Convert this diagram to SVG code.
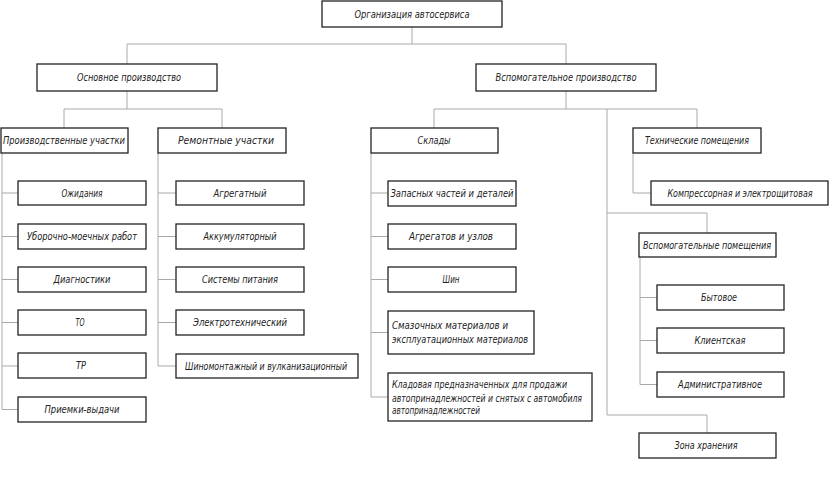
<svg xmlns="http://www.w3.org/2000/svg" width="833" height="481" viewBox="0 0 833 481">
<style>
.b{fill:#fff;stroke:#222;stroke-width:1.3}
.c{fill:none;stroke:#aaa;stroke-width:1}
text{font-family:"DejaVu Sans Condensed","DejaVu Sans",sans-serif;font-style:italic;font-size:10px;fill:#222;lengthAdjust:spacingAndGlyphs}
.m{text-anchor:middle}
</style>
<rect width="833" height="481" fill="#fff"/>
<g id="connectors" class="c">
<path d="M412,27V44M127,44H566M127,44V64M566,44V64"/>
<path d="M127,91V109M64,109H222M64,109V128M222,109V128"/>
<path d="M566,91V109M434,109H697M434,109V128M697,109V128M607,109V415H707V433M607,213H707V233"/>
<path d="M2,153V409.5M2,193H18M2,236.5H18M2,279.5H18M2,322.5H18M2,366H18M2,409.5H18"/>
<path d="M158,153V366M158,193H176M158,236.5H176M158,279.5H176M158,322.5H176M158,366H176"/>
<path d="M371,153V397M371,193H388M371,236.5H388M371,279.5H388M371,332.5H388M371,397H388"/>
<path d="M633,153V193H651"/>
<path d="M640,257V384.5M640,297.5H657M640,340.5H657M640,384.5H657"/>
</g>
<g id="n_root"><rect class="b" x="322" y="1" width="180" height="26"/><text class="m" x="412" y="17.5" textLength="115" lengthAdjust="spacingAndGlyphs">Организация автосервиса</text></g>
<g id="n_main"><rect class="b" x="37" y="64" width="180" height="27"/><text class="m" x="129" y="81" textLength="104" lengthAdjust="spacingAndGlyphs">Основное производство</text></g>
<g id="n_aux"><rect class="b" x="476" y="64" width="180" height="27"/><text class="m" x="566" y="81" textLength="141" lengthAdjust="spacingAndGlyphs">Вспомогательное производство</text></g>
<g id="n_prod"><rect class="b" x="1" y="128" width="127" height="25"/><text class="m" x="64" y="144" textLength="122" lengthAdjust="spacingAndGlyphs">Производственные участки</text></g>
<g id="n_rem"><rect class="b" x="158" y="128" width="128" height="25"/><text class="m" x="226" y="144" textLength="96" lengthAdjust="spacingAndGlyphs">Ремонтные участки</text></g>
<g id="n_skl"><rect class="b" x="371" y="128" width="127" height="25"/><text class="m" x="434" y="144" textLength="33" lengthAdjust="spacingAndGlyphs">Склады</text></g>
<g id="n_teh"><rect class="b" x="633" y="128" width="128" height="25"/><text class="m" x="697" y="144" textLength="104" lengthAdjust="spacingAndGlyphs">Технические помещения</text></g>
<g id="n_p1"><rect class="b" x="18" y="181" width="128" height="24"/><text class="m" x="82" y="196.5" textLength="41" lengthAdjust="spacingAndGlyphs">Ожидания</text></g>
<g id="n_p2"><rect class="b" x="18" y="224" width="128" height="25"/><text class="m" x="82" y="240" textLength="110" lengthAdjust="spacingAndGlyphs">Уборочно-моечных работ</text></g>
<g id="n_p3"><rect class="b" x="18" y="267" width="128" height="25"/><text class="m" x="82" y="283" textLength="57" lengthAdjust="spacingAndGlyphs">Диагностики</text></g>
<g id="n_p4"><rect class="b" x="18" y="310" width="128" height="25"/><text class="m" x="80" y="326" textLength="9" lengthAdjust="spacingAndGlyphs">ТО</text></g>
<g id="n_p5"><rect class="b" x="18" y="353" width="128" height="25"/><text class="m" x="81" y="369" textLength="10" lengthAdjust="spacingAndGlyphs">ТР</text></g>
<g id="n_p6"><rect class="b" x="18" y="397" width="128" height="25"/><text class="m" x="82" y="413" textLength="75" lengthAdjust="spacingAndGlyphs">Приемки-выдачи</text></g>
<g id="n_r1"><rect class="b" x="176" y="181" width="128" height="24"/><text class="m" x="240" y="196.5" textLength="53" lengthAdjust="spacingAndGlyphs">Агрегатный</text></g>
<g id="n_r2"><rect class="b" x="176" y="224" width="128" height="25"/><text class="m" x="240" y="240" textLength="73" lengthAdjust="spacingAndGlyphs">Аккумуляторный</text></g>
<g id="n_r3"><rect class="b" x="176" y="267" width="128" height="25"/><text class="m" x="240" y="283" textLength="76" lengthAdjust="spacingAndGlyphs">Системы питания</text></g>
<g id="n_r4"><rect class="b" x="176" y="310" width="128" height="25"/><text class="m" x="240" y="326" textLength="94" lengthAdjust="spacingAndGlyphs">Электротехнический</text></g>
<g id="n_r5"><rect class="b" x="176" y="354" width="182" height="24"/><text class="m" x="266" y="369.5" textLength="162" lengthAdjust="spacingAndGlyphs">Шиномонтажный и вулканизационный</text></g>
<g id="n_s1"><rect class="b" x="388" y="181" width="128" height="25"/><text class="m" x="452" y="197" textLength="123" lengthAdjust="spacingAndGlyphs">Запасных частей и деталей</text></g>
<g id="n_s2"><rect class="b" x="388" y="224" width="128" height="25"/><text class="m" x="451" y="240" textLength="84" lengthAdjust="spacingAndGlyphs">Агрегатов и узлов</text></g>
<g id="n_s3"><rect class="b" x="388" y="267" width="128" height="25"/><text class="m" x="451" y="283" textLength="17" lengthAdjust="spacingAndGlyphs">Шин</text></g>
<g id="n_s4"><rect class="b" x="388" y="311" width="146" height="43"/><text x="392" y="328.5" textLength="116" lengthAdjust="spacingAndGlyphs">Смазочных материалов и</text><text x="392" y="342.5" textLength="136" lengthAdjust="spacingAndGlyphs">эксплуатационных материалов</text></g>
<g id="n_s5"><rect class="b" x="388" y="373" width="204" height="48"/><text x="392" y="388" textLength="175" lengthAdjust="spacingAndGlyphs">Кладовая предназначенных для продажи</text><text x="392" y="401.5" textLength="190" lengthAdjust="spacingAndGlyphs">автопринадлежностей и снятых с автомобиля</text><text x="392" y="414" textLength="88" lengthAdjust="spacingAndGlyphs">автопринадлежностей</text></g>
<g id="n_t1"><rect class="b" x="651" y="181" width="177" height="24"/><text class="m" x="740" y="196.5" textLength="145" lengthAdjust="spacingAndGlyphs">Компрессорная и электрощитовая</text></g>
<g id="n_v"><rect class="b" x="639" y="233" width="137" height="24"/><text class="m" x="707" y="248.5" textLength="128" lengthAdjust="spacingAndGlyphs">Вспомогательные помещения</text></g>
<g id="n_v1"><rect class="b" x="657" y="285" width="127" height="25"/><text class="m" x="719" y="301" textLength="36" lengthAdjust="spacingAndGlyphs">Бытовое</text></g>
<g id="n_v2"><rect class="b" x="657" y="328" width="127" height="25"/><text class="m" x="720" y="344" textLength="51" lengthAdjust="spacingAndGlyphs">Клиентская</text></g>
<g id="n_v3"><rect class="b" x="657" y="372" width="127" height="25"/><text class="m" x="720" y="388" textLength="84" lengthAdjust="spacingAndGlyphs">Административное</text></g>
<g id="n_z"><rect class="b" x="639" y="433" width="137" height="25"/><text class="m" x="706" y="449" textLength="63" lengthAdjust="spacingAndGlyphs">Зона хранения</text></g>
</svg>
